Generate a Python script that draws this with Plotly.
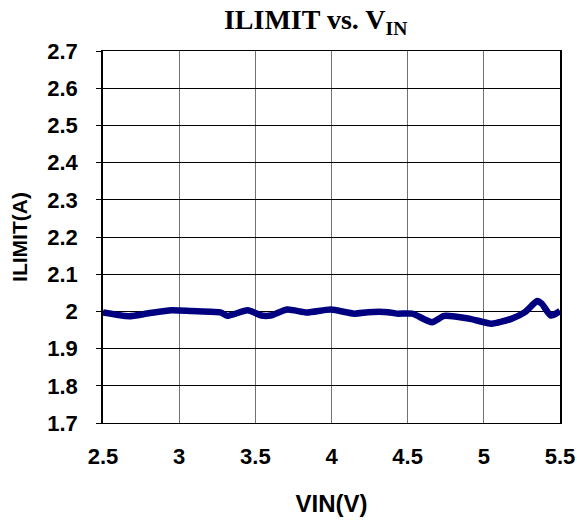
import plotly.graph_objects as go

# Input voltage (V) and measured current limit (A)
vin = [2.5, 2.67, 2.80, 2.95, 3.08, 3.275, 3.315, 3.45, 3.54, 3.60, 3.71, 3.84,
       3.995, 4.15, 4.24, 4.37, 4.43, 4.53, 4.66, 4.74, 4.91, 5.05, 5.18, 5.27,
       5.35, 5.38, 5.44, 5.5]
ilimit = [1.997, 1.987, 1.995, 2.003, 2.001, 1.997, 1.988, 2.003, 1.989, 1.989,
          2.005, 1.997, 2.005, 1.994, 1.998, 1.998, 1.994, 1.994, 1.971, 1.988,
          1.980, 1.967, 1.980, 1.998, 2.028, 2.021, 1.989, 2.001]

x_ticks = [2.5, 3, 3.5, 4, 4.5, 5, 5.5]
y_ticks = [1.7, 1.8, 1.9, 2.0, 2.1, 2.2, 2.3, 2.4, 2.5, 2.6, 2.7]
x_labels = ["2.5", "3", "3.5", "4", "4.5", "5", "5.5"]
y_labels = ["1.7", "1.8", "1.9", "2", "2.1", "2.2", "2.3", "2.4", "2.5", "2.6", "2.7"]

fig = go.Figure()
fig.add_trace(go.Scatter(
    x=vin, y=ilimit, mode="lines",
    line=dict(color="#000080", width=6.5, shape="spline", smoothing=0.6),
    showlegend=False, hoverinfo="skip",
))

sans = "Liberation Sans, Arial, sans-serif"
tick_font = dict(family=sans, size=22, color="black")

fig.update_layout(
    width=577, height=522,
    margin=dict(l=103, r=17, t=51, b=99),
    paper_bgcolor="white", plot_bgcolor="white",
    title=dict(
        text="<b>ILIMIT vs. V<sub>IN</sub></b>",
        font=dict(family="Liberation Serif, Times New Roman, serif", size=28, color="black"),
        x=0.547, xanchor="center", xref="container", y=0.963, yanchor="middle",
    ),
    xaxis=dict(
        range=[2.5, 5.5], tickvals=x_ticks, ticktext=[f"<b>{t}</b>" for t in x_labels],
        tickfont=tick_font, showgrid=True, gridcolor="#707070", gridwidth=1,
        showline=True, linecolor="black", linewidth=1, mirror=True,
        ticks="", ticklabelstandoff=14, zeroline=False, automargin=False,
        title=dict(text="<b>VIN(V)</b>", font=dict(family=sans, size=24, color="black"),
                   standoff=26),
    ),
    yaxis=dict(
        range=[1.7, 2.7], tickvals=y_ticks, ticktext=[f"<b>{t}</b>" for t in y_labels],
        tickfont=tick_font, showgrid=True, gridcolor="black", gridwidth=1,
        showline=True, linecolor="black", linewidth=1.5, mirror=True,
        ticks="outside", ticklen=5, tickcolor="black", ticklabelstandoff=14,
        zeroline=False, automargin=False,
        title=dict(text="<b>ILIMIT(A)</b>", font=dict(family=sans, size=21, color="black"),
                   standoff=14),
    ),
)

fig.write_html("out.html")
